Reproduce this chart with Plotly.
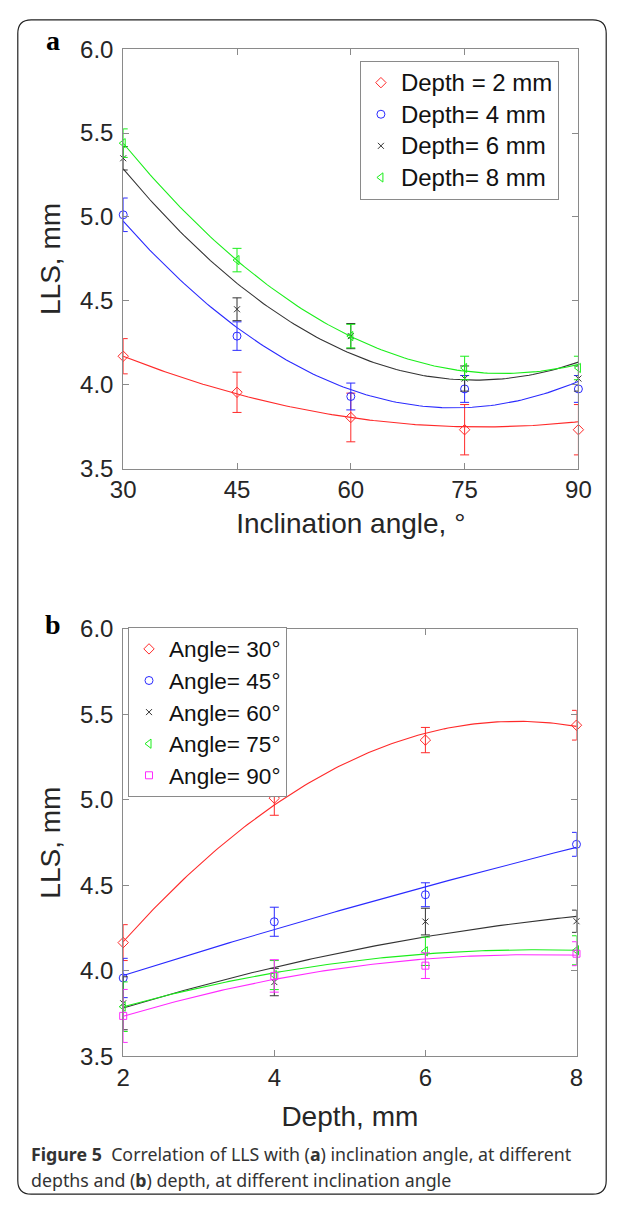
import numpy as np
import plotly.graph_objects as go

# ---------------- data ----------------
angles = [30, 45, 60, 75, 90]
depths = [2, 4, 6, 8]

angle_ticks = [30, 45, 60, 75, 90]
depth_ticks = [2, 4, 6, 8]
lls_ticks = [3.5, 4.0, 4.5, 5.0, 5.5, 6.0]

# Panel a: LLS vs inclination angle for each depth
a_names = ["Depth = 2 mm", "Depth= 4 mm", "Depth= 6 mm", "Depth= 8 mm"]
a_d2 = [4.17, 3.955, 3.805, 3.732, 3.732]
a_d4 = [5.013, 4.29, 3.93, 3.975, 3.975]
a_d6 = [5.35, 4.45, 4.29, 4.037, 4.037]
a_d8 = [5.44, 4.743, 4.29, 4.10, 4.10]
a_err_d2 = [0.105, 0.12, 0.145, 0.15, 0.15]
a_err_d4 = [0.10, 0.085, 0.08, 0.08, 0.08]
a_err_d6 = [0.07, 0.068, 0.075, 0.075, 0.075]
a_err_d8 = [0.085, 0.07, 0.07, 0.07, 0.07]
# fitted trend values read at each angle
a_fit_d2 = [4.17, 3.945, 3.805, 3.748, 3.78]
a_fit_d4 = [4.975, 4.34, 3.97, 3.865, 4.02]
a_fit_d6 = [5.28, 4.62, 4.18, 4.02, 4.14]
a_fit_d8 = [5.44, 4.74, 4.285, 4.085, 4.12]

# Panel b: LLS vs depth for each inclination angle
b_names = ["Angle= 30°", "Angle= 45°", "Angle= 60°", "Angle= 75°", "Angle= 90°"]
b_a30 = [4.165, 5.01, 5.35, 5.437]
b_a45 = [3.958, 4.287, 4.445, 4.74]
b_a60 = [3.81, 3.934, 4.288, 4.29]
b_a75 = [3.79, 3.975, 4.114, 4.12]
b_a90 = [3.736, 3.97, 4.03, 4.10]
b_err_a30 = [0.105, 0.10, 0.074, 0.087]
b_err_a45 = [0.115, 0.085, 0.07, 0.07]
b_err_a60 = [0.155, 0.08, 0.078, 0.065]
b_err_a75 = [0.145, 0.085, 0.083, 0.085]
b_err_a90 = [0.155, 0.095, 0.075, 0.07]
b_fit_a30 = [4.17, 4.97, 5.39, 5.43]
b_fit_a45 = [3.975, 4.236, 4.498, 4.72]
b_fit_a60 = [3.783, 4.019, 4.20, 4.318]
b_fit_a75 = [3.79, 3.987, 4.10, 4.12]
b_fit_a90 = [3.735, 3.947, 4.072, 4.09]

caption_line1 = "<b>Figure 5</b>  Correlation of LLS with (<b>a</b>) inclination angle, at different"
caption_line2 = "depths and (<b>b</b>) depth, at different inclination angle"

# ---------------- styling ----------------
W, H = 624, 1212
colors = ["#ff2a2a", "#2a2aff", "#333333", "#1aee1a", "#ff2aff"]
symbols = ["diamond-open", "circle-open", "x-thin-open", "triangle-left-open", "square-open"]
sizes = [8, 8, 6, 8, 7]
AX = "#8a8a8a"
FONT = "Liberation Sans, Arial, sans-serif"
LEG_ROW = 22       # size that drives legend row spacing

fig = go.Figure()

def add_series(x, y, err, fit, name, i, xa, ya, leg, txt_size):
    xs = np.linspace(min(x), max(x), 121)
    coef = np.polyfit(x, fit, 2)
    fig.add_trace(go.Scatter(x=xs, y=np.polyval(coef, xs), mode="lines",
                             line=dict(color=colors[i], width=1.1),
                             showlegend=False, hoverinfo="skip",
                             xaxis=xa, yaxis=ya, cliponaxis=False))
    fig.add_trace(go.Scatter(x=x, y=y, mode="markers",
                             name=f"<span style='font-size:{txt_size}px'>{name}</span>",
                             marker=dict(symbol=symbols[i], size=sizes[i], color=colors[i],
                                         line=dict(width=1, color=colors[i])),
                             error_y=dict(type="data", array=err, color=colors[i],
                                          thickness=1, width=4.5),
                             xaxis=xa, yaxis=ya, legend=leg, cliponaxis=False))

a_y = [a_d2, a_d4, a_d6, a_d8]
a_e = [a_err_d2, a_err_d4, a_err_d6, a_err_d8]
a_f = [a_fit_d2, a_fit_d4, a_fit_d6, a_fit_d8]
for i in range(4):
    add_series(angles, a_y[i], a_e[i], a_f[i], a_names[i], i, "x", "y", "legend", 24)

b_y = [b_a30, b_a45, b_a60, b_a75, b_a90]
b_e = [b_err_a30, b_err_a45, b_err_a60, b_err_a75, b_err_a90]
b_f = [b_fit_a30, b_fit_a45, b_fit_a60, b_fit_a75, b_fit_a90]
for i in range(5):
    add_series(depths, b_y[i], b_e[i], b_f[i], b_names[i], i, "x2", "y2", "legend2", 22.6)

def px_x(p):
    return p / W

def px_y(p):
    return 1 - p / H

axis_common = dict(showline=True, linecolor=AX, linewidth=1, mirror="ticks",
                   ticks="inside", ticklen=6, tickcolor=AX, tickwidth=1,
                   showgrid=False, zeroline=False,
                   tickfont=dict(family=FONT, size=24, color="#262626"),
                   title_font=dict(family=FONT, size=28, color="#262626"))

fig.update_layout(
    width=W, height=H, margin=dict(l=0, r=0, t=0, b=0),
    paper_bgcolor="white", plot_bgcolor="white",
    xaxis=dict(domain=[px_x(115), px_x(590)], range=[30, 90], tickvals=angle_ticks,
               anchor="y", title=dict(text="Inclination angle, °", standoff=10), **axis_common),
    yaxis=dict(domain=[px_y(465), px_y(36)], range=[3.5, 6.0], tickvals=lls_ticks,
               tickformat=".1f", anchor="x", ticklabelstandoff=4,
               title=dict(text="LLS, mm", standoff=11), **axis_common),
    xaxis2=dict(domain=[px_x(115), px_x(588)], range=[2, 8], tickvals=depth_ticks,
                anchor="y2", title=dict(text="Depth, mm", standoff=16), **axis_common),
    yaxis2=dict(domain=[px_y(1066), px_y(629)], range=[3.5, 6.0], tickvals=lls_ticks,
                tickformat=".1f", anchor="x2", ticklabelstandoff=4,
                title=dict(text="LLS, mm", standoff=11), **axis_common),
    legend=dict(x=px_x(362), y=px_y(119), xanchor="left", yanchor="middle",
                bordercolor=AX, borderwidth=1, bgcolor="white",
                font=dict(family=FONT, size=LEG_ROW, color="#111111"), tracegroupgap=0),
    legend2=dict(x=px_x(120), y=px_y(714), xanchor="left", yanchor="middle",
                 bordercolor=AX, borderwidth=1, bgcolor="white",
                 font=dict(family=FONT, size=LEG_ROW, color="#111111"), tracegroupgap=0),
    showlegend=True,
)

# panel letters
fig.add_annotation(text="<b>a</b>", x=px_x(42), y=px_y(27), xref="paper", yref="paper",
                   xanchor="center", yanchor="middle", showarrow=False,
                   font=dict(family="Liberation Serif", size=28, color="black"))
fig.add_annotation(text="<b>b</b>", x=px_x(42), y=px_y(624), xref="paper", yref="paper",
                   xanchor="center", yanchor="middle", showarrow=False,
                   font=dict(family="Liberation Serif", size=28, color="black"))

# caption (two lines)
for txt, yc in [(caption_line1, 1166), (caption_line2, 1193)]:
    fig.add_annotation(text=txt, x=px_x(17), y=px_y(yc), xref="paper", yref="paper",
                       xanchor="left", yanchor="middle", align="left", showarrow=False,
                       font=dict(family="Noto Sans", size=17.8, color="#333333"))

# rounded outer frame
x0, x1, y0, y1, r = 5, 619, 6, 1207, 14
path = (f"M {px_x(x0+r)},{px_y(y0)} L {px_x(x1-r)},{px_y(y0)} "
        f"Q {px_x(x1)},{px_y(y0)} {px_x(x1)},{px_y(y0+r)} "
        f"L {px_x(x1)},{px_y(y1-r)} Q {px_x(x1)},{px_y(y1)} {px_x(x1-r)},{px_y(y1)} "
        f"L {px_x(x0+r)},{px_y(y1)} Q {px_x(x0)},{px_y(y1)} {px_x(x0)},{px_y(y1-r)} "
        f"L {px_x(x0)},{px_y(y0+r)} Q {px_x(x0)},{px_y(y0)} {px_x(x0+r)},{px_y(y0)} Z")
fig.add_shape(type="path", path=path, xref="paper", yref="paper",
              line=dict(color="#222222", width=1.2), layer="below")

fig.write_html("out.html", config={"displayModeBar": False},
               post_script="document.body.style.margin='0px';document.body.style.overflow='hidden';")
